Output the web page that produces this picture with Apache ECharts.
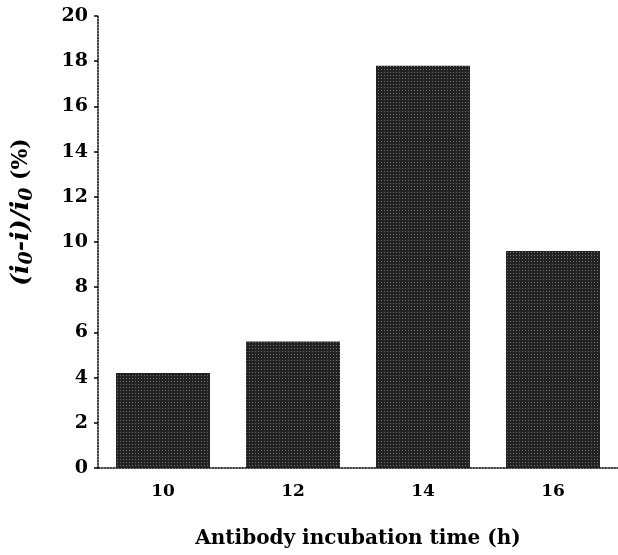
<!DOCTYPE html>
<html>
<head>
<meta charset="utf-8">
<style>
  html, body { margin: 0; padding: 0; background: #fff; }
  #chart { width: 618px; height: 555px; }
</style>
<script src="https://cdn.jsdelivr.net/npm/echarts@6/dist/echarts.min.js"></script>
</head>
<body>
<div id="chart"></div>
<script>
// Incubation times (h) and the relative current change for each
const categories = ['10', '12', '14', '16'];
const values = [4.2, 5.6, 17.8, 9.6];
const yTicks = { min: 0, max: 20, interval: 2 };

const serif = '"DejaVu Serif", "Liberation Serif", serif';

const chart = echarts.init(document.getElementById('chart'), null, { renderer: 'canvas' });

chart.setOption({
  animation: false,
  backgroundColor: '#ffffff',
  grid: { left: 98, top: 16, width: 524, height: 452 },
  xAxis: {
    type: 'category',
    data: categories,
    boundaryGap: true,
    name: 'Antibody incubation time (h)',
    nameLocation: 'middle',
    nameGap: 61,
    nameTextStyle: { fontFamily: serif, fontWeight: 'bold', fontSize: 20, color: '#000' },
    axisLine: { lineStyle: { color: '#000', width: 1.5, type: 'dotted' } },
    axisTick: { show: false },
    axisLabel: { fontFamily: serif, fontWeight: 'bold', fontSize: 17, color: '#000', margin: 15 }
  },
  yAxis: {
    type: 'value',
    min: yTicks.min,
    max: yTicks.max,
    interval: yTicks.interval,
    splitLine: { show: false },
    axisLine: { show: true, lineStyle: { color: '#000', width: 1.5, type: 'dotted' } },
    axisTick: { show: true, length: 4, lineStyle: { color: '#000', width: 1.5 } },
    axisLabel: { fontFamily: serif, fontWeight: 'bold', fontSize: 19, color: '#000', margin: 10 }
  },
  graphic: [{
    type: 'text',
    x: 21,
    y: 212,
    rotation: Math.PI / 2,
    style: {
      text: '{a|(i}{s|0}{a|-i)/i}{s|0}{b| (%)}',
      fontFamily: serif,
      fill: '#000',
      align: 'center',
      verticalAlign: 'middle',
      rich: {
        a: { fontFamily: serif, fontWeight: 'bold', fontStyle: 'italic', fontSize: 25, fill: '#000' },
        s: { fontFamily: serif, fontWeight: 'bold', fontStyle: 'italic', fontSize: 19, fill: '#000', padding: [12, 0, 0, 0] },
        b: { fontFamily: serif, fontWeight: 'bold', fontSize: 22, fill: '#000' }
      }
    }
  }],
  series: [{
    type: 'bar',
    data: values,
    barWidth: 94,
    itemStyle: {
      color: '#222222',
      decal: {
        symbol: 'rect',
        symbolSize: 1,
        color: 'rgba(255,255,255,0.35)',
        dashArrayX: [1, 2],
        dashArrayY: [1, 2],
        rotation: 0
      }
    }
  }]
});
</script>
</body>
</html>
